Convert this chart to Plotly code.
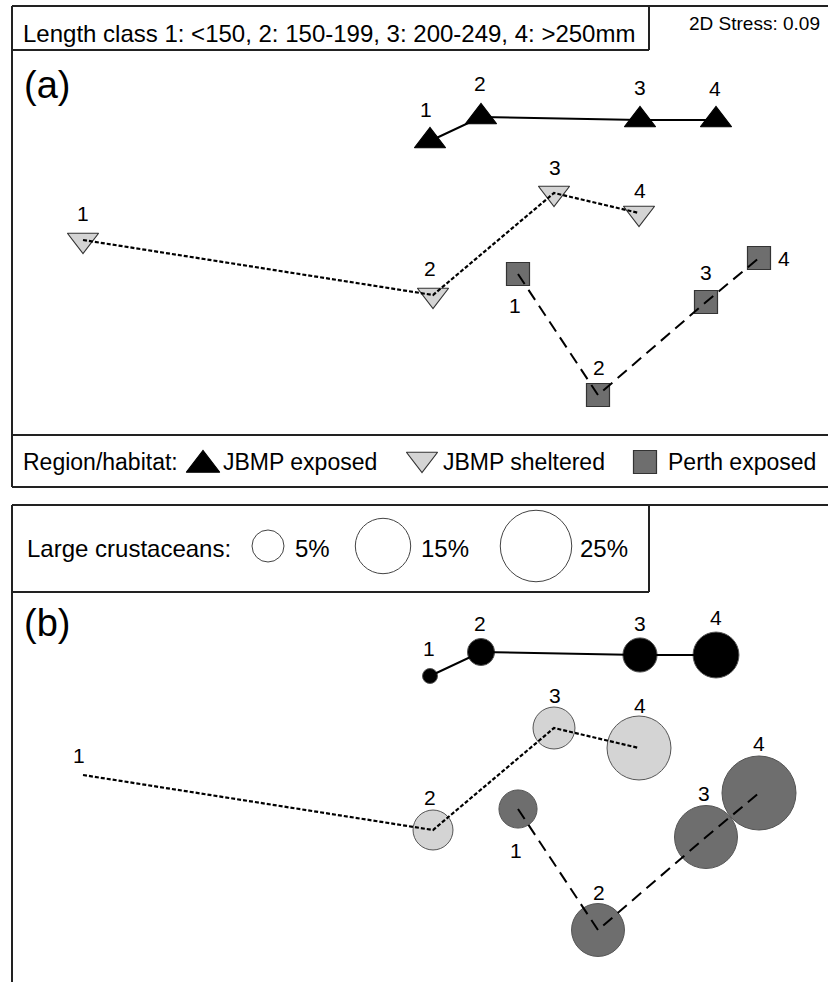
import math
import plotly.graph_objects as go

W, H = 828, 982

# ---------------- data (nMDS ordination) ----------------
length_classes = ["1", "2", "3", "4"]
group_names = ["JBMP exposed", "JBMP sheltered", "Perth exposed"]

mds1_jbmp_exposed = [0.10, 0.61, 2.20, 2.96]
mds2_jbmp_exposed = [1.09, 1.33, 1.30, 1.30]
mds1_jbmp_sheltered = [-3.37, 0.13, 1.34, 2.19]
mds2_jbmp_sheltered = [0.10, -0.45, 0.57, 0.37]
mds1_perth_exposed = [0.98, 1.78, 2.86, 3.39]
mds2_perth_exposed = [-0.24, -1.45, -0.52, -0.08]

# % large crustaceans (bubble sizes, panel b)
crust_jbmp_exposed = [1.1, 3.6, 5.7, 10.3]
crust_jbmp_sheltered = [0.0, 7.8, 8.6, 20.0]
crust_perth_exposed = [7.1, 13.7, 19.4, 26.8]
legend_pcts = [5, 15, 25]

stress_text = "2D Stress: 0.09"
header_a = "Length class 1: <150, 2: 150-199, 3: 200-249, 4: >250mm"

# ---------------- styles ----------------
FONT = "Liberation Sans, Arial, sans-serif"
EDGE = "#222222"
styles = {
    "JBMP exposed": dict(symbol="triangle-up", fill="#000000", outline="#000000",
                         dash="solid", lw=2, msize=27),
    "JBMP sheltered": dict(symbol="triangle-down", fill="#d4d4d4", outline="#333333",
                           dash="4px,2px", lw=2.2, msize=27),
    "Perth exposed": dict(symbol="square", fill="#6e6e6e", outline="#333333",
                          dash="12px,7px", lw=2, msize=23),
}
# label offsets in pixels (dx, dy; dy positive = down)
label_off_a = {
    "JBMP exposed": [(-4, -32), (-1, -34), (0, -33), (-1, -32)],
    "JBMP sheltered": [(0, -27), (-3, -27), (1, -26), (1, -23)],
    "Perth exposed": [(-3, 31), (1, -28), (0, -30), (25, 0)],
}
label_off_b = {
    "JBMP exposed": [(-1, -28), (-1, -29), (0, -32), (0, -38)],
    "JBMP sheltered": [(-4, -20), (-3, -33), (1, -33), (1, -43)],
    "Perth exposed": [(-2, 41), (1, -38), (-2, -44), (0, -50)],
}

def bubble_diam(p):
    return 14.3 * math.sqrt(p)

series = {
    "JBMP exposed": (mds1_jbmp_exposed, mds2_jbmp_exposed, crust_jbmp_exposed),
    "JBMP sheltered": (mds1_jbmp_sheltered, mds2_jbmp_sheltered, crust_jbmp_sheltered),
    "Perth exposed": (mds1_perth_exposed, mds2_perth_exposed, crust_perth_exposed),
}

fig = go.Figure()
annotations = []

for name in group_names:
    xs, ys, pct = series[name]
    st = styles[name]
    # ---- panel (a): symbols, line on top
    fig.add_trace(go.Scatter(
        x=xs, y=ys, mode="markers", xaxis="x", yaxis="y", showlegend=False,
        marker=dict(symbol=st["symbol"], size=st["msize"], color=st["fill"], opacity=1,
                    line=dict(color=st["outline"], width=1.2)),
        hoverinfo="skip"))
    fig.add_trace(go.Scatter(
        x=xs, y=ys, mode="lines", xaxis="x", yaxis="y", showlegend=False,
        line=dict(color="#000000", width=st["lw"], dash=st["dash"]),
        hoverinfo="skip"))
    # ---- panel (b): bubbles sized by % large crustaceans, line on top
    bx = [x for x, p in zip(xs, pct) if p > 0]
    by = [y for y, p in zip(ys, pct) if p > 0]
    bs = [bubble_diam(p) for p in pct if p > 0]
    fig.add_trace(go.Scatter(
        x=bx, y=by, mode="markers", xaxis="x2", yaxis="y2", showlegend=False,
        marker=dict(symbol="circle", size=bs, sizemode="diameter", color=st["fill"], opacity=1,
                    line=dict(color="#555555", width=1)),
        hoverinfo="skip"))
    fig.add_trace(go.Scatter(
        x=xs, y=ys, mode="lines", xaxis="x2", yaxis="y2", showlegend=False,
        line=dict(color="#000000", width=st["lw"], dash=st["dash"]),
        hoverinfo="skip"))
    # ---- point labels
    for i, lab in enumerate(length_classes):
        dx, dy = label_off_a[name][i]
        annotations.append(dict(x=xs[i], y=ys[i], xref="x", yref="y", text=lab,
                                showarrow=False, xshift=dx, yshift=-dy,
                                font=dict(family=FONT, size=21, color="#000")))
        dx, dy = label_off_b[name][i]
        annotations.append(dict(x=xs[i], y=ys[i], xref="x2", yref="y2", text=lab,
                                showarrow=False, xshift=dx, yshift=-dy,
                                font=dict(family=FONT, size=21, color="#000")))

# ---------------- legend keys on a pixel overlay axis ----------------
leg_a_x = [203, 422, 645]
leg_a_y = 462
leg_a_text_x = [221, 441, 666]
for i, name in enumerate(group_names):
    st = styles[name]
    dy = 3 if st["symbol"] == "triangle-up" else (-3 if st["symbol"] == "triangle-down" else 0)
    fig.add_trace(go.Scatter(
        x=[leg_a_x[i]], y=[leg_a_y + dy],
        mode="markers", xaxis="x3", yaxis="y3", showlegend=False,
        marker=dict(symbol=st["symbol"], size=st["msize"] + 2 if i == 0 else st["msize"],
                    color=st["fill"], opacity=1, line=dict(color=st["outline"], width=1.2)),
        hoverinfo="skip"))
    annotations.append(dict(x=leg_a_text_x[i] / W, y=1 - leg_a_y / H, xref="paper", yref="paper",
                            text=name, showarrow=False, xanchor="left", yanchor="middle",
                            font=dict(family=FONT, size=23, color="#000")))
annotations.append(dict(x=21 / W, y=1 - leg_a_y / H, xref="paper", yref="paper",
                        text="Region/habitat:", showarrow=False, xanchor="left", yanchor="middle",
                        font=dict(family=FONT, size=23, color="#000")))

leg_b_x = [268, 383, 536]
leg_b_text_x = [293, 419, 578]
leg_b_y = 546
fig.add_trace(go.Scatter(
    x=leg_b_x, y=[leg_b_y] * len(legend_pcts), mode="markers", xaxis="x3", yaxis="y3",
    showlegend=False,
    marker=dict(symbol="circle", size=[bubble_diam(p) for p in legend_pcts], sizemode="diameter",
                color="#ffffff", opacity=1, line=dict(color="#444444", width=1)),
    hoverinfo="skip"))
for i, p in enumerate(legend_pcts):
    annotations.append(dict(x=leg_b_text_x[i] / W, y=1 - 548 / H, xref="paper", yref="paper",
                            text=f"{p}%", showarrow=False, xanchor="left", yanchor="middle",
                            font=dict(family=FONT, size=24, color="#000")))
annotations.append(dict(x=25 / W, y=1 - 548 / H, xref="paper", yref="paper",
                        text="Large crustaceans:", showarrow=False, xanchor="left", yanchor="middle",
                        font=dict(family=FONT, size=24, color="#000")))

# headers and panel letters
annotations.append(dict(x=21 / W, y=1 - 33 / H, xref="paper", yref="paper", text=header_a,
                        showarrow=False, xanchor="left", yanchor="middle",
                        font=dict(family=FONT, size=24, color="#000")))
annotations.append(dict(x=822 / W, y=1 - 24 / H, xref="paper", yref="paper", text=stress_text,
                        showarrow=False, xanchor="right", yanchor="middle",
                        font=dict(family=FONT, size=19, color="#000")))
annotations.append(dict(x=22 / W, y=1 - 85 / H, xref="paper", yref="paper", text="(a)",
                        showarrow=False, xanchor="left", yanchor="middle",
                        font=dict(family=FONT, size=38, color="#000")))
annotations.append(dict(x=22 / W, y=1 - 623 / H, xref="paper", yref="paper", text="(b)",
                        showarrow=False, xanchor="left", yanchor="middle",
                        font=dict(family=FONT, size=38, color="#000")))

# ---------------- frame lines ----------------
def hline(y, x0, x1):
    return dict(type="line", xref="paper", yref="paper", x0=x0 / W, x1=x1 / W,
                y0=1 - y / H, y1=1 - y / H, line=dict(color=EDGE, width=2))

def vline(x, y0, y1):
    return dict(type="line", xref="paper", yref="paper", x0=x / W, x1=x / W,
                y0=1 - y0 / H, y1=1 - y1 / H, line=dict(color=EDGE, width=2))

shapes = [
    hline(6, 12, 830), vline(12, 6, 487), hline(50, 12, 649), vline(649, 6, 50),
    hline(435, 12, 830), hline(487, 12, 830),
    hline(505, 12, 830), vline(12, 505, 984), hline(592, 12, 649), vline(649, 505, 592),
]

ax_common = dict(visible=False, showgrid=False, zeroline=False, fixedrange=True)
fig.update_layout(
    width=W, height=H, margin=dict(l=0, r=0, t=0, b=0),
    paper_bgcolor="white", plot_bgcolor="rgba(0,0,0,0)",
    xaxis=dict(domain=[0, 1], range=[-4.2, 4.08], anchor="y", **ax_common),
    yaxis=dict(domain=[1 - 435 / H, 1 - 50 / H], range=[-1.85, 2.0], anchor="x", **ax_common),
    xaxis2=dict(domain=[0, 1], range=[-4.2, 4.08], anchor="y2", **ax_common),
    yaxis2=dict(domain=[0, 1 - 592 / H], range=[-1.97, 1.93], anchor="x2", **ax_common),
    xaxis3=dict(domain=[0, 1], range=[0, W], anchor="y3", **ax_common),
    yaxis3=dict(domain=[0, 1], range=[H, 0], anchor="x3", **ax_common),
    annotations=annotations, shapes=shapes, showlegend=False,
)

fig.write_html(
    "out.html",
    config={"displayModeBar": False, "staticPlot": True},
    post_script="document.body.style.margin='0';document.body.style.overflow='hidden';",
)
